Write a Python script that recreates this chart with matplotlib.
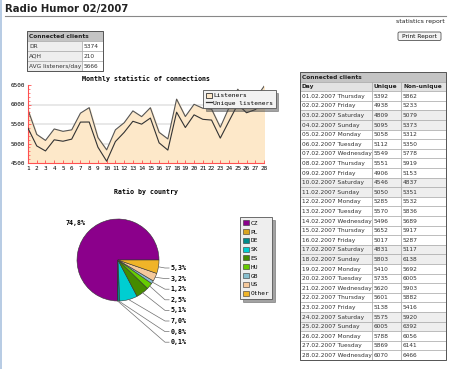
import datetime
import numpy as np
import matplotlib
matplotlib.use("Agg")
import matplotlib.pyplot as plt
from matplotlib.patches import Rectangle, FancyBboxPatch, Patch
from matplotlib.lines import Line2D

W, H = 451, 369

# --- data ---
summary_labels = ["DR", "AQH", "AVG listeners/day"]
summary_values = [5374, 210, 5666]

days = list(range(1, 29))
unique = [5392, 4938, 4809, 5095, 5058, 5112, 5549, 5551, 4906, 4546,
          5050, 5285, 5570, 5496, 5652, 5017, 4831, 5803, 5410, 5735,
          5620, 5601, 5138, 5575, 6005, 5788, 5869, 6070]
non_unique = [5862, 5233, 5079, 5373, 5312, 5350, 5778, 5919, 5153, 4837,
              5351, 5532, 5836, 5689, 5917, 5287, 5117, 6138, 5692, 6005,
              5903, 5882, 5416, 5920, 6392, 6056, 6141, 6466]

countries = ["CZ", "PL", "DE", "SK", "ES", "HU", "GB", "US", "Other"]
shares = [74.8, 0.1, 0.8, 7.0, 5.1, 2.5, 1.2, 3.2, 5.3]
country_colors = ["#8B008B", "#DAA520", "#008B8B", "#00CED1", "#458B00",
                  "#66CC00", "#87BFCF", "#F5C99C", "#F0B428"]

MONO = "DejaVu Sans Mono"
SANS = "DejaVu Sans"

fig = plt.figure(figsize=(W / 100, H / 100), dpi=100)
fig.patch.set_facecolor("white")


def px_axes(x0, y0, x1, y1, **kw):
    return fig.add_axes([x0 / W, 1 - y1 / H, (x1 - x0) / W, (y1 - y0) / H], **kw)


# page layer in pixel coordinates
page = px_axes(0, 0, W, H)
page.set_xlim(0, W)
page.set_ylim(H, 0)
page.axis("off")

page.add_patch(Rectangle((0, 0), 2, H, color="#B8CCE4", lw=0))
page.text(5, 9, "Radio Humor 02/2007", fontsize=7.3, fontweight="bold",
          family=SANS, va="center", ha="left", color="#222222")
page.plot([5, 446], [15.5, 15.5], color="#888888", lw=0.8)
page.text(445, 22, "statistics report", fontsize=4.4, family=SANS,
          ha="right", va="center", color="#222222")
page.add_patch(FancyBboxPatch((398, 32), 43, 8.5, boxstyle="round,pad=0,rounding_size=1.5",
                              fc="#F4F4F4", ec="#555555", lw=0.6))
page.text(419.5, 36.3, "Print Report", fontsize=4.2, family=SANS,
          ha="center", va="center", color="#111111")


def cell(x0, y0, x1, y1, fc, text="", bold=False, pad=2):
    page.add_patch(Rectangle((x0, y0), x1 - x0, y1 - y0, fc=fc, ec="#A0A0A0", lw=0.4))
    if text != "":
        page.text(x0 + pad, (y0 + y1) / 2 + 0.3, text, fontsize=4.2, family=SANS,
                  fontweight="bold" if bold else "normal", ha="left", va="center",
                  color="#222222" if bold else "#333333")


# small summary table
sx0, sx1, sx2 = 27, 82, 103
sy = 31
rh = 10
cell(sx0, sy, sx2, sy + rh, "#C4C4C4", "Connected clients", bold=True)
for i, (lab, val) in enumerate(zip(summary_labels, summary_values)):
    y0 = sy + rh * (i + 1)
    cell(sx0, y0, sx1, y0 + rh, "#EEEEEE", lab)
    cell(sx1, y0, sx2, y0 + rh, "white", str(val))
page.add_patch(Rectangle((sx0, sy), sx2 - sx0, rh * 4, fill=False, ec="#555555", lw=0.7))

# daily table
tx0, tx1, tx2, tx3 = 300, 372, 401, 446
ty = 72
trh = 9.6
cell(tx0, ty, tx3, ty + trh, "#C4C4C4", "Connected clients", bold=True)
cell(tx0, ty + trh, tx1, ty + 2 * trh, "#E2E2E2", "Day", bold=True)
cell(tx1, ty + trh, tx2, ty + 2 * trh, "#E2E2E2", "Unique", bold=True)
cell(tx2, ty + trh, tx3, ty + 2 * trh, "#E2E2E2", "Non-unique", bold=True)
for i, d in enumerate(days):
    date = datetime.date(2007, 2, d)
    label = f"{d:02d}.02.2007 {date.strftime('%A')}"
    fc = "#EEEEEE" if date.weekday() >= 5 else "white"
    y0 = ty + trh * (i + 2)
    cell(tx0, y0, tx1, y0 + trh, fc, label)
    cell(tx1, y0, tx2, y0 + trh, fc, str(unique[i]))
    cell(tx2, y0, tx3, y0 + trh, fc, str(non_unique[i]))
page.add_patch(Rectangle((tx0, ty), tx3 - tx0, trh * 30, fill=False, ec="#555555", lw=0.7))

# --- line chart ---
ax = px_axes(28, 85, 264, 163)
ax.set_facecolor("white")
ax.set_xlim(1, 28)
ax.set_ylim(4500, 6500)
for yv in [5000, 5500, 6000]:
    ax.axhline(yv, color="#E4E4E4", lw=1.2, zorder=0)
ax.fill_between(days, non_unique, 4500, color="#FDE8C9", zorder=1)
ax.plot(days, non_unique, color="#555555", lw=0.8, zorder=2)
ax.plot(days, unique, color="#333333", lw=0.8, zorder=3)
ax.set_xticks(days)
ax.set_xticklabels([str(d) for d in days])
ax.set_yticks([4500, 5000, 5500, 6000, 6500])
ax.set_yticks(range(4500, 6501, 100), minor=True)
ax.tick_params(axis="both", which="major", direction="in", color="#FF5050",
               length=2.5, width=0.6, labelsize=4.3, pad=2)
ax.tick_params(axis="y", which="minor", direction="in", color="#FF5050",
               length=1.5, width=0.5)
for lab in ax.get_xticklabels() + ax.get_yticklabels():
    lab.set_family(MONO)
for side in ["top", "right"]:
    ax.spines[side].set_visible(False)
for side in ["left", "bottom"]:
    ax.spines[side].set_color("#FF5050")
    ax.spines[side].set_linewidth(0.8)
ax.set_title("Monthly statistic of connections", fontsize=4.8, family=MONO,
             fontweight="bold", pad=3)
leg = ax.legend(handles=[Patch(fc="#FDE8C9", ec="#333333", lw=0.6, label="Listeners"),
                         Line2D([], [], color="#333333", lw=0.9, label="Unique listeners")],
                loc="upper left", bbox_to_anchor=(203 / W, 1 - 90 / H),
                bbox_transform=fig.transFigure, prop={"family": MONO, "size": 4.5},
                fancybox=False, shadow=True, framealpha=1, edgecolor="#555555",
                facecolor="#F2F2F2", handlelength=1.0, handleheight=0.9,
                handletextpad=0.2, labelspacing=0.25, borderpad=0.4, borderaxespad=0)
leg.get_frame().set_linewidth(0.6)
leg.set_zorder(10)

# --- pie chart ---
pcx, pcy, pr = 118, 260, 41
pax = px_axes(pcx - pr, pcy - pr, pcx + pr, pcy + pr)
wedges, _ = pax.pie(shares, colors=country_colors, startangle=0, counterclock=True,
                    radius=1, wedgeprops=dict(edgecolor="#333333", linewidth=0.4))
pax.set_xlim(-1, 1)
pax.set_ylim(-1, 1)
pax.set_aspect("equal")
pax.axis("off")
fig.text(146 / W, 1 - 192 / H, "Ratio by country", fontsize=4.8, family=MONO,
         fontweight="bold", ha="center", va="center")

elbow_x = (165 - pcx) / pr
for i in range(1, len(shares)):
    w = wedges[i]
    th = np.deg2rad((w.theta1 + w.theta2) / 2)
    slot = len(shares) - 1 - i
    ly = (pcy - (268 + slot * 10.6)) / pr
    sx, sy_ = np.cos(th), np.sin(th)
    pax.plot([sx, elbow_x, elbow_x + 0.1], [sy_, ly, ly], color="#6E6E6E",
             lw=0.5, clip_on=False)
    pax.text(elbow_x + 0.14, ly, f"{shares[i]:.1f}%".replace(".", ","),
             fontsize=4.8, family=MONO, fontweight="bold", ha="left",
             va="center", clip_on=False)
pax.text(-0.78, (pcy - 223) / pr, f"{shares[0]:.1f}%".replace(".", ","),
         fontsize=4.8, family=MONO, fontweight="bold", ha="right", va="center",
         clip_on=False)

pleg = pax.legend(handles=[Patch(fc=c, ec="#333333", lw=0.4, label=n)
                           for n, c in zip(countries, country_colors)],
                  loc="upper left", bbox_to_anchor=(240 / W, 1 - 217 / H),
                  bbox_transform=fig.transFigure, prop={"family": MONO, "size": 4.4},
                  fancybox=False, shadow=True, framealpha=1, edgecolor="#555555",
                  facecolor="#EEEEEE", handlelength=0.9, handleheight=0.9,
                  handletextpad=0.3, labelspacing=0.52, borderpad=0.5, borderaxespad=0)
pleg.get_frame().set_linewidth(0.6)

fig.savefig("out.png", dpi=100)
